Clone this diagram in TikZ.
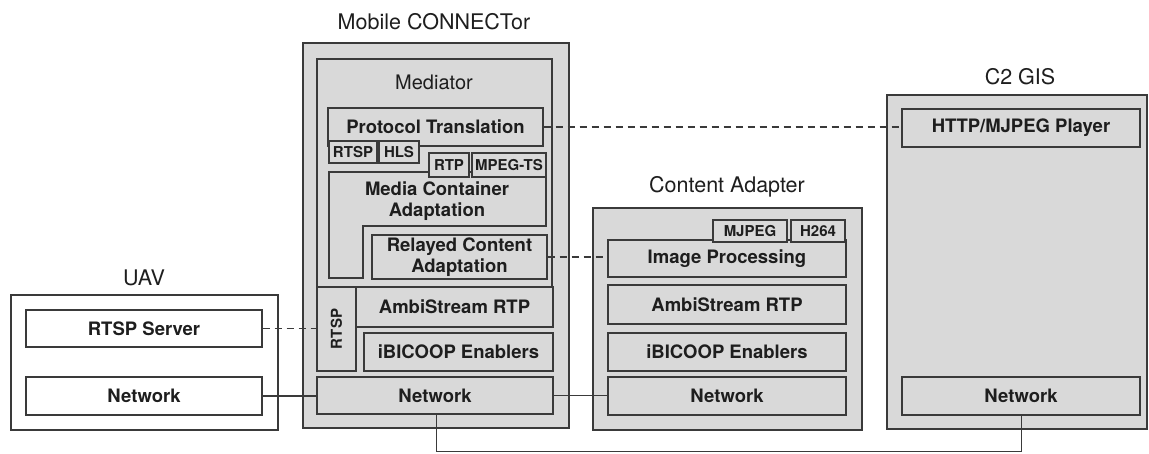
\documentclass[tikz,border=0pt]{standalone}
\usepackage{fontspec}
\setmainfont{TeX Gyre Heros}
\definecolor{boxgrey}{HTML}{D9D9D9}
\definecolor{linec}{HTML}{3A3A3A}
\definecolor{txtc}{HTML}{1E1E1E}
\tikzset{
  blk/.style={draw=linec, line width=1.4pt, fill=boxgrey, inner sep=0pt, align=center, text=txtc,
    font=\bfseries\fontsize{18.5}{21}\selectfont},
  wblk/.style={blk, fill=white},
  small/.style={blk, font=\bfseries\fontsize{15}{17}\selectfont},
  cont/.style={draw=linec, line width=1.4pt, fill=boxgrey, inner sep=0pt},
  title/.style={text=txtc, inner sep=0pt, font=\fontsize{21.5}{24}\selectfont},
  txt/.style={text=txtc, inner sep=0pt, align=center, font=\bfseries\fontsize{18.5}{21}\selectfont},
  dashlink/.style={draw=linec, line width=1.3pt, dash pattern=on 7pt off 5pt},
  link/.style={draw=linec, line width=1.3pt},
}
\begin{document}
\begin{tikzpicture}[x=1pt, y=-1pt]
\useasboundingbox (0,0) rectangle (1149,453);
% ---------------- UAV
\node[title] (uavlabel) at (144,278) {UAV};
\node[cont, fill=white, minimum width=267pt, minimum height=135pt] (uav) at (144.5,362.5) {};
\node[wblk, minimum width=236pt, minimum height=37pt] (rtspserver) at (144,328.5) {RTSP Server};
\node[wblk, minimum width=236pt, minimum height=38pt] (uavnet) at (144,396) {Network};
% ---------------- Mobile CONNECTor
\node[title] (mclabel) at (434,22) {Mobile CONNECTor};
\node[cont, minimum width=266pt, minimum height=385pt] (mc) at (436,235.5) {};
\node[cont, minimum width=235pt, minimum height=228pt] (mediator) at (434.5,173) {};
\node[title, font=\fontsize{20}{22}\selectfont] (medlabel) at (434,82) {Mediator};
\node[blk, minimum width=215pt, minimum height=38pt] (prot) at (435.5,127) {Protocol Translation};
\draw[cont] (329,172) -- (546,172) -- (546,226) -- (363,226) -- (363,278) -- (329,278) -- cycle;
\node[txt] (mca) at (437,201) {Media Container\\Adaptation};
\node[small, minimum width=48pt, minimum height=22pt] (rtspA) at (353,152) {RTSP};
\node[small, minimum width=40pt, minimum height=22pt] (hls) at (399,152) {HLS};
\node[small, minimum width=40pt, minimum height=24pt] (rtp) at (449,165) {RTP};
\node[small, minimum width=74pt, minimum height=24pt] (mpegts) at (509,165) {MPEG-TS};
\node[blk, minimum width=175pt, minimum height=44pt] (relayed) at (459.5,257) {Relayed Content\\Adaptation};
\node[small, minimum width=39pt, minimum height=84pt] (rtspV) at (336.5,329) {};
\node[txt, rotate=90, font=\bfseries\fontsize{15}{17}\selectfont] (rtspVtxt) at (rtspV.center) {RTSP};
\node[blk, minimum width=197pt, minimum height=40pt] (ambiMC) at (454.5,307) {AmbiStream RTP};
\node[blk, minimum width=189pt, minimum height=38pt] (ibiMC) at (458.5,352) {iBICOOP Enablers};
\node[blk, minimum width=236pt, minimum height=37pt] (netMC) at (435,395.5) {Network};
% ---------------- Content Adapter
\node[title] (calabel) at (727,187) {Content Adapter};
\node[cont, minimum width=269pt, minimum height=222pt] (ca) at (727.5,319) {};
\node[blk, minimum width=238pt, minimum height=37pt] (imgproc) at (727,258.5) {Image Processing};
\node[small, minimum width=74pt, minimum height=22pt] (mjpeg) at (750,231) {MJPEG};
\node[small, minimum width=54pt, minimum height=22pt] (h264) at (818,231) {H264};
\node[blk, minimum width=238pt, minimum height=39pt] (ambiCA) at (727,304.5) {AmbiStream RTP};
\node[blk, minimum width=238pt, minimum height=38pt] (ibiCA) at (727,352) {iBICOOP Enablers};
\node[blk, minimum width=238pt, minimum height=38pt] (netCA) at (727,396) {Network};
% ---------------- C2 GIS
\node[title] (c2label) at (1020,77) {C2 GIS};
\node[cont, minimum width=260pt, minimum height=334pt] (c2) at (1017,262) {};
\node[blk, minimum width=238pt, minimum height=38pt] (player) at (1021,128) {HTTP/MJPEG Player};
\node[blk, minimum width=238pt, minimum height=38pt] (netC2) at (1021,396) {Network};
% ---------------- connectors
\draw[dashlink] (prot.east) -- (player.west |- prot.east);
\draw[dashlink] (relayed.east) -- (imgproc.west |- relayed.east);
\draw[dashlink] (rtspserver.east) -- (rtspV.west |- rtspserver.east);
\draw[link] (uavnet.east) -- (netMC.west |- uavnet.east);
\draw[link] (netMC.east) -- (netCA.west |- netMC.east);
\coordinate (busL) at (436,451);
\draw[link, line width=1pt] (netMC.south -| busL) -- (busL) -- (busL -| netC2.south) -- (netC2.south);
\end{tikzpicture}
\end{document}
